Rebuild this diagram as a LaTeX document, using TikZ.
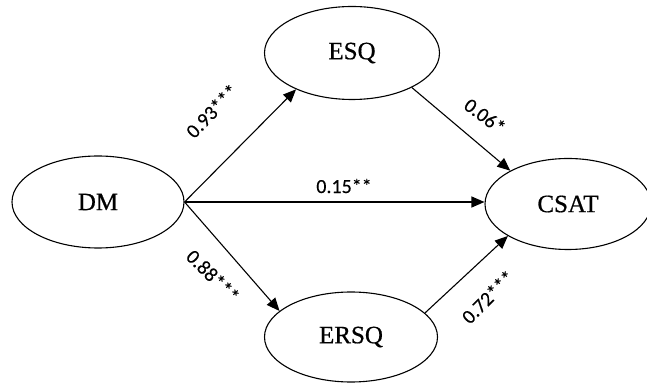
\documentclass[tikz,border=0pt]{standalone}
\usepackage{fontspec}
\setmainfont{Liberation Serif}
\newfontfamily\nodefont{Liberation Serif}[FakeBold=0.6]
\newfontfamily\lblfont{Carlito}[FakeBold=0.3]
\usetikzlibrary{shapes.geometric,arrows.meta}
\begin{document}
\begin{tikzpicture}[x=1pt,y=1pt,
  latent/.style={draw=black,line width=1.1pt,ellipse,inner sep=0pt,font=\nodefont\fontsize{25}{27}\selectfont},
  path/.style={draw=black,line width=1.1pt,-{Triangle[length=13pt,width=11pt]}},
  coef/.style={font=\lblfont\fontsize{20}{22}\selectfont,inner sep=0pt}]
\useasboundingbox (0,0) rectangle (647,385);
\node[latent,minimum width=172pt,minimum height=92pt] (DM) at (98,183) {DM};
\node[latent,minimum width=175pt,minimum height=93pt] (ESQ) at (352,332) {ESQ};
\node[latent,minimum width=166pt,minimum height=91pt] (CSAT) at (568,181) {CSAT};
\node[latent,minimum width=173pt,minimum height=90pt] (ERSQ) at (351,48) {ERSQ};
\draw[path] (DM.east) -- (ESQ.213);
\draw[path] (DM.east) -- (ERSQ.160);
\draw[path] (DM.east) -- (DM.east -| CSAT.west);
\draw[path] (ESQ.330) -- (CSAT.150);
\draw[path] (ERSQ.18) -- (CSAT.208);
\node[coef,rotate=46] (l1) at (212,274) {0.93***};
\node[coef,rotate=-45] (l2) at (213,109) {0.88***};
\node[coef,rotate=-37] (l3) at (485,269) {0.06*};
\node[coef,rotate=45] (l4) at (488,88) {0.72***};
\node[coef] (l5) at (344,199) {0.15**};
\end{tikzpicture}
\end{document}
